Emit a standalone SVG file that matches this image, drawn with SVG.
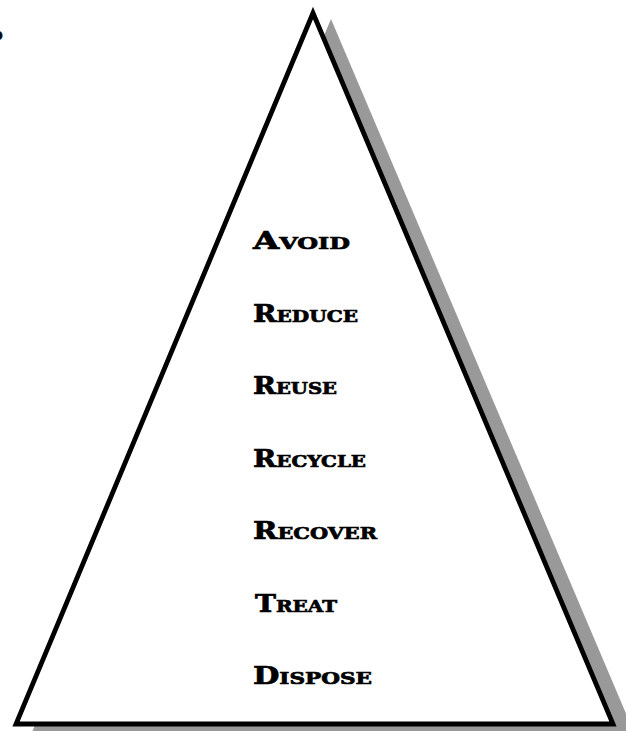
<svg xmlns="http://www.w3.org/2000/svg" width="626" height="731" viewBox="0 0 626 731">
<style>
.lbl{font-family:"DejaVu Serif","Liberation Serif",serif;font-weight:bold;fill:#000;stroke:#000;stroke-width:0.7}
.cap{font-size:24px}
.sm{font-size:17px}
</style>
<rect width="626" height="731" fill="#fff"/>
<g id="pyramid">
<polygon id="shadow" points="331,19 30,737 636,737" fill="#999"/>
<polygon id="triangle" points="313,13 16,724 613,724" fill="#fff" stroke="#000" stroke-width="4.8" stroke-linejoin="miter"/>
</g>
<g id="fragment"><text class="lbl" x="-8" y="40" font-size="16">o</text></g>
<g id="labels">
<g id="avoid"><text class="lbl" x="253" y="249" textLength="97" lengthAdjust="spacingAndGlyphs"><tspan class="cap">A</tspan><tspan class="sm">VOID</tspan></text></g>
<g id="reduce"><text class="lbl" x="253" y="321.5" textLength="105" lengthAdjust="spacingAndGlyphs"><tspan class="cap">R</tspan><tspan class="sm">EDUCE</tspan></text></g>
<g id="reuse"><text class="lbl" x="253" y="394" textLength="84" lengthAdjust="spacingAndGlyphs"><tspan class="cap">R</tspan><tspan class="sm">EUSE</tspan></text></g>
<g id="recycle"><text class="lbl" x="253" y="466.5" textLength="113" lengthAdjust="spacingAndGlyphs"><tspan class="cap">R</tspan><tspan class="sm">ECYCLE</tspan></text></g>
<g id="recover"><text class="lbl" x="253" y="539" textLength="124" lengthAdjust="spacingAndGlyphs"><tspan class="cap">R</tspan><tspan class="sm">ECOVER</tspan></text></g>
<g id="treat"><text class="lbl" x="255" y="611.5" textLength="82" lengthAdjust="spacingAndGlyphs"><tspan class="cap">T</tspan><tspan class="sm">REAT</tspan></text></g>
<g id="dispose"><text class="lbl" x="253" y="684" textLength="119" lengthAdjust="spacingAndGlyphs"><tspan class="cap">D</tspan><tspan class="sm">ISPOSE</tspan></text></g>
</g>
</svg>
